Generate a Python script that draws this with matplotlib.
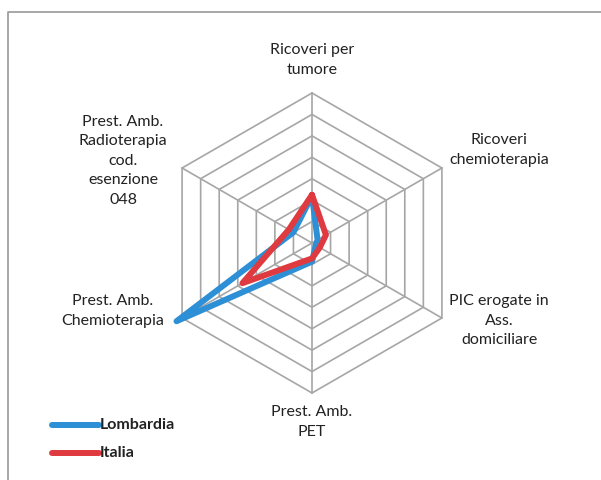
import numpy as np
import matplotlib
matplotlib.use("Agg")
import matplotlib.pyplot as plt
from matplotlib.lines import Line2D

categorie = [
    "Ricoveri per\ntumore",
    "Ricoveri\nchemioterapia",
    "PIC erogate in\nAss.\ndomiciliare",
    "Prest. Amb.\nPET",
    "Prest. Amb.\nChemioterapia",
    "Prest. Amb.\nRadioterapia\ncod.\nesenzione\n048",
]
lombardia = [2.2, 0.3, 0.2, 0.87, 7.3, 1.0]
italia = [2.25, 0.75, 0.42, 0.72, 3.75, 1.25]
n_anelli = 7

col_lomb = "#2d8fd5"
col_ita = "#de3a3f"
col_griglia = "#a6a6a6"

W, H, DPI = 601, 480, 100
cx, cy = 312, 243          # centro del radar in pixel
unit = 150 / n_anelli      # pixel per unità

plt.rcParams["font.family"] = ["Lato", "DejaVu Sans"]
fig = plt.figure(figsize=(W / DPI, H / DPI), dpi=DPI)
ax = fig.add_axes([0, 0, 1, 1])
ax.set_xlim(-cx / unit, (W - cx) / unit)
ax.set_ylim(-(H - cy) / unit, cy / unit)
ax.set_aspect("equal")
ax.axis("off")

ang = np.deg2rad(np.arange(6) * 60)   # in senso orario dall'alto
dx, dy = np.sin(ang), np.cos(ang)

# griglia esagonale
for k in range(1, n_anelli + 1):
    ax.plot(np.append(dx, dx[0]) * k, np.append(dy, dy[0]) * k,
            color=col_griglia, lw=1.2, zorder=1)
for i in range(6):
    ax.plot([0, dx[i] * n_anelli], [0, dy[i] * n_anelli],
            color=col_griglia, lw=1.2, zorder=1)

def serie(vals, col, z):
    v = np.array(vals)
    x = np.append(v * dx, v[0] * dx[0])
    y = np.append(v * dy, v[0] * dy[0])
    ax.plot(x, y, color=col, lw=4.3, solid_joinstyle="round",
            solid_capstyle="round", zorder=z, clip_on=False)

serie(lombardia, col_lomb, 3)
serie(italia, col_ita, 4)

# etichette degli assi (posizioni in pixel)
pos = [(312, 60), (499, 150), (499, 321), (312, 422), (113, 311), (123, 161)]
for lab, (px, py) in zip(categorie, pos):
    fig.text(px / W, 1 - py / H, lab, ha="center", va="center",
             fontsize=11.5, color="#222222", linespacing=1.5)

# legenda
for yy, col, nome in [(425, col_lomb, "Lombardia"), (453, col_ita, "Italia")]:
    fig.add_artist(Line2D([52 / W, 99 / W], [1 - yy / H] * 2, color=col,
                          lw=4.3, solid_capstyle="round"))
    fig.text(100 / W, 1 - yy / H, nome, ha="left", va="center",
             fontsize=11.5, fontweight="bold", color="#222222")

# cornice
fig.add_artist(Line2D([8 / W, 8 / W, 1], [0, 1 - 12 / H, 1 - 12 / H],
                      color="#a0a0a0", lw=1.3))

fig.savefig("out.png", dpi=DPI)
